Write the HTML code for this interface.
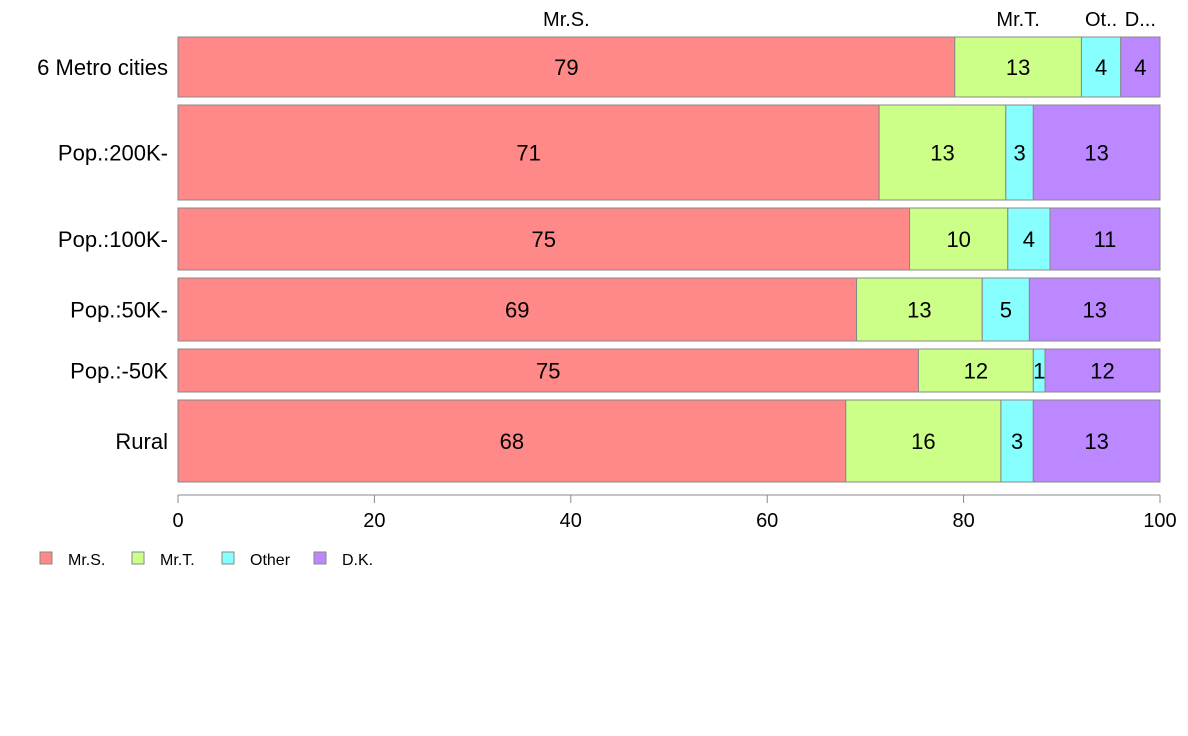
<!DOCTYPE html>
<html><head><meta charset="utf-8"><style>
body{margin:0;background:#fff;}
svg{display:block;font-family:"Liberation Sans",Arial,sans-serif;}
</style></head><body>
<svg id="chart" width="1188" height="736"></svg>
<script>
const categories=["6 Metro cities","Pop.:200K-","Pop.:100K-","Pop.:50K-","Pop.:-50K","Rural"];
const weights=[60,95,62,63,43,82];
const seriesNames=["Mr.S.","Mr.T.","Other","D.K."];
const topLabels=["Mr.S.","Mr.T.","Ot..","D..."];
const mrS=[79.1,71.4,74.5,69.1,75.4,68.0];
const mrT=[12.9,12.9,10.0,12.8,11.7,15.8];
const other=[4.0,2.8,4.3,4.8,1.2,3.3];
const dk=[4.0,12.9,11.2,13.3,11.7,12.9];
const ticks=[0,20,40,60,80,100];
const colors=["#FF8888","#CCFF88","#88FFFF","#BB88FF"];
const series=[mrS,mrT,other,dk];
const NS="http://www.w3.org/2000/svg";
const svg=document.getElementById('chart');
const x0=178,x1=1160,yTop=37,yBot=482,gap=8;
const sx=v=>x0+(x1-x0)*v/100;
function mk(t,a,p){const e=document.createElementNS(NS,t);for(const k in a)e.setAttribute(k,a[k]);(p||svg).appendChild(e);return e;}
const totalW=weights.reduce((a,b)=>a+b,0);
const avail=yBot-yTop-gap*(categories.length-1);
let y=yTop;
categories.forEach((c,i)=>{
  const h=avail*weights[i]/totalW;
  const g=mk('g',{});
  
  
  let cum=0;
  series.forEach((s,j)=>{
    const v=s[i];
    const r=mk('rect',{x:sx(cum),y:y,width:sx(cum+v)-sx(cum),height:h,fill:colors[j],stroke:'#888','stroke-width':1},g);
    
    
    const t=mk('text',{x:(sx(cum)+sx(cum+v))/2,y:y+h/2+8,'font-size':22,'text-anchor':'middle',fill:'#000'},g);
    t.textContent=Math.round(v);
    
    
    if(i===0){
      const tl=mk('text',{x:(sx(cum)+sx(cum+v))/2,y:26,'font-size':20,'text-anchor':'middle'});
      tl.textContent=topLabels[j];
      
      
    }
    cum+=v;
  });
  const cl=mk('text',{x:168,y:y+h/2+8,'font-size':22,'text-anchor':'end'});
  cl.textContent=c;
  
  
  y+=h+gap;
});
const ax=mk('line',{x1:x0,x2:x1,y1:495,y2:495,stroke:'#888'});


ticks.forEach(t=>{
  const l=mk('line',{x1:sx(t),x2:sx(t),y1:495,y2:503,stroke:'#888'});
  
  
  const tx=mk('text',{x:sx(t),y:527,'font-size':20,'text-anchor':'middle'});
  tx.textContent=t;
  
  
});
const lx=[40,132,222,314];
seriesNames.forEach((n,j)=>{
  const r=mk('rect',{x:lx[j],y:552,width:12,height:12,fill:colors[j],stroke:'#888'});
  
  
  const t=mk('text',{x:lx[j]+28,y:565,'font-size':16});
  t.textContent=n;
  
  
});
</script>
</body></html>
